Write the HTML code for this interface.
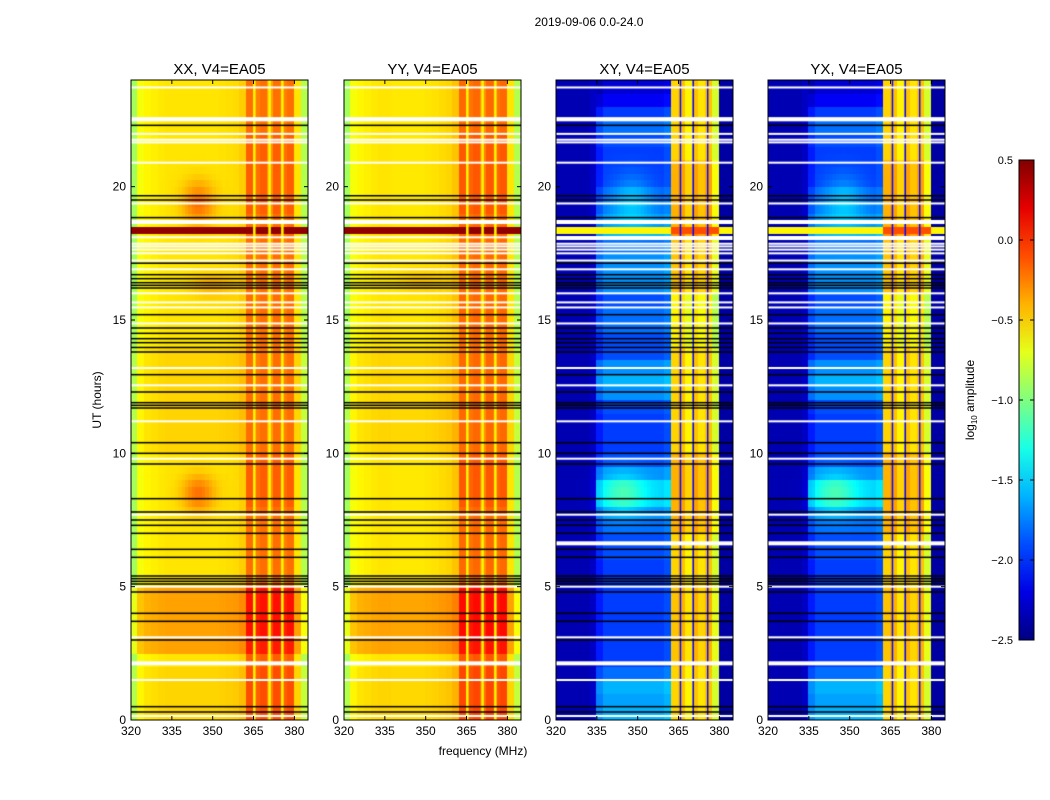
<!DOCTYPE html>
<html><head><meta charset="utf-8">
<style>
body{margin:0;background:#fff;}
#wrap{position:relative;width:1050px;height:800px;font-family:"Liberation Sans",sans-serif;}
canvas,svg{position:absolute;left:0;top:0;}
</style></head>
<body>
<div id="wrap">
<canvas id="cv" width="1050" height="800"></canvas>
<svg id="sv" width="1050" height="800"></svg>
</div>
<script>
// ---- data ----
const freqBins = [320,322.5,325,327.5,330,332.5,335,337.5,340,342.5,345,347.5,350,352.5,355,357.5,360,362.5,365,367.5,370,372.5,375,377.5,380,382.5];
const xxColBase = [-0.9,-0.65,-0.6,-0.58,-0.56,-0.55,-0.55,-0.55,-0.55,-0.55,-0.55,-0.55,-0.55,-0.54,-0.53,-0.52,-0.48,-0.2,-0.25,-0.2,-0.35,-0.2,-0.25,-0.2,-0.55,-0.85];
const yyColBase = [-0.9,-0.65,-0.6,-0.58,-0.56,-0.55,-0.55,-0.56,-0.56,-0.56,-0.56,-0.56,-0.55,-0.54,-0.52,-0.5,-0.45,-0.18,-0.22,-0.18,-0.3,-0.18,-0.22,-0.18,-0.55,-0.85];
const xyColBase = [-2.35,-2.35,-2.35,-2.35,-2.35,-2.3,-2.05,-1.95,-1.95,-1.95,-1.95,-1.95,-1.95,-1.95,-1.95,-1.95,-1.9,-0.5,-0.45,-0.6,-0.45,-0.55,-0.45,-0.75,-2.4,-2.4];
const yxColBase = [-2.35,-2.35,-2.35,-2.35,-2.35,-2.3,-2.05,-1.95,-1.95,-1.95,-1.95,-1.95,-1.95,-1.95,-1.95,-1.95,-1.9,-0.5,-0.45,-0.6,-0.45,-0.55,-0.45,-0.75,-2.4,-2.4];
const xxRowAll = [0.05,0.05,0.05,0.05,0,0.2,0.2,0.2,0.2,0.2,0,0,0,0,0,0,0,0,0,0,0.05,0.05,0.05,0.05,0.05,0.05,0.05,0.05,0,0,0,0,0,0,0,0,0,0,0,0,0,0,0,0,0,0,0,0];
const xxRowRight = [0.05,0.05,0.05,0.05,0.05,0.05,0.08,0.08,0.08,0.08,0,0,0,0,0,0,0.05,0.05,0.05,0.05,-0.05,-0.05,-0.05,-0.05,-0.05,-0.05,-0.05,-0.05,0,0,0,0,0,0,0,0,0,0,0.05,0.05,0.05,0.05,0.05,0.05,0,0,0,0];
const xyRowMid = [0.35,0.3,0.35,0.15,0,0,0,0,0,0,0,0,0.05,0.05,0.15,0.25,0.45,0.45,0.25,0.05,0,0,0,0.05,0.25,0.35,0.25,0.05,0.05,0.15,0.15,0.05,0.25,0.25,0.25,0.15,0.35,0.25,0.15,0.1,0,0,0,0.05,0.15,0,-0.2,-0.3];
const xyRowRight = [0,0,0,0,0.05,0.05,0.05,0.05,0.05,0.05,0,0,0,0,0.1,0.1,0.1,0.1,0.1,0.1,0,0,0,0,0,0,0,0,-0.1,-0.1,-0.1,-0.1,0.05,0.05,0.05,0.05,0.2,0.1,0.1,0.1,0.1,0.1,0,0,0,0,0,0];
// blobs: [freq, hour, amplitude, freqWidth, hourWidth]
const xxBlobs = [[345,19.4,0.35,6,0.8],[345,8.5,0.35,6,0.7],[350,16.3,0.15,8,0.5]];
const yyBlobs = [[348,16.5,0.1,8,0.5]];
const xyBlobs = [[345,8.5,0.35,8,0.8],[348,19.5,0.3,8,1.0]];
const yxBlobs = [[345,8.5,0.35,8,0.8],[348,19.5,0.3,8,1.0]];
// bands: [hourStart, hourEnd, value]
const xxBands = [[18.2,18.55,0.45]];
const xyBands = [[18.2,18.55,-0.6]];
const xxStripes = [365.2,370.8,375.5];
const xyStripes = [365.8,370.5,375.8];
const whiteLines = [23.72,22.56,21.98,21.76,21.66,20.9,19.37,18.1,17.86,17.76,17.64,17.5,17.23,16.9,16.0,15.66,15.47,14.87,13.2,12.55,11.2,9.8,7.7,5.0,3.1,1.5,0.15];
const blackLines = [22.3,19.66,19.5,18.84,17.13,16.7,16.55,16.4,16.3,16.2,15.2,14.7,14.5,14.3,14.15,13.97,13.8,12.95,12.3,11.9,11.8,11.7,10.4,10.0,9.6,8.3,7.8,7.5,7.3,7.0,6.4,6.1,5.4,5.3,5.2,5.1,4.8,4.0,3.7,3.0,0.5,0.3];
const whiteBands = [[22.45,22.6],[18.6,18.75],[2.05,2.2]];
const xyWhiteBands = [[18.0,18.15],[6.55,6.7]];
const xTicks = [320,335,350,365,380];
const yTicks = [0,5,10,15,20];
const cbTicks = [0.5,0.0,-0.5,-1.0,-1.5,-2.0,-2.5];

// ---- layout ----
const panels = [
 {left:131,title:"XX, V4=EA05",col:xxColBase,all:xxRowAll,mid:null,right:xxRowRight,blobs:xxBlobs,bands:xxBands,stripes:xxStripes,stripeVal:-0.6,cross:false},
 {left:344,title:"YY, V4=EA05",col:yyColBase,all:xxRowAll,mid:null,right:xxRowRight,blobs:yyBlobs,bands:xxBands,stripes:xxStripes,stripeVal:-0.6,cross:false},
 {left:556,title:"XY, V4=EA05",col:xyColBase,all:null,mid:xyRowMid,right:xyRowRight,blobs:xyBlobs,bands:xyBands,stripes:xyStripes,stripeVal:-2.1,cross:true},
 {left:768,title:"YX, V4=EA05",col:yxColBase,all:null,mid:xyRowMid,right:xyRowRight,blobs:yxBlobs,bands:xyBands,stripes:xyStripes,stripeVal:-2.1,cross:true}
];
const W=177,TOP=80,H=640,F0=320,F1=385,T0=0,T1=24;
function jet(v){let x=(v+2.5)/3;x=Math.max(0,Math.min(1,x));
 const c=t=>Math.round(255*Math.max(0,Math.min(1,1.5-Math.abs(t))));
 return `rgb(${c(4*x-3)},${c(4*x-2)},${c(4*x-1)})`;}
const ctx=document.getElementById('cv').getContext('2d');
const sv=document.getElementById('sv');
const NS="http://www.w3.org/2000/svg";
function mk(tag,attrs,name,parent){const e=document.createElementNS(NS,tag);for(const k in attrs)e.setAttribute(k,attrs[k]);
 
 
 (parent||sv).appendChild(e);return e;}
function txt(x,y,s,size,anchor,name,rot){const t=mk('text',{x:x,y:y,'font-size':size,'text-anchor':anchor||'middle','font-family':'Liberation Sans, sans-serif',fill:'#000'},name);
 if(rot)t.setAttribute('transform',`rotate(${rot} ${x} ${y})`);t.textContent=s;return t;}

panels.forEach((p,pi)=>{
 const xs=f=>p.left+(f-F0)/(F1-F0)*W;
 const ys=t=>TOP+H-(t-T0)/(T1-T0)*H;
 const df=1.25,dt=0.25;
 for(let f=F0;f<F1-1e-6;f+=df){
  const fc=f+df/2;const ci=Math.min(freqBins.length-1,Math.floor((fc-F0)/2.5));
  for(let t=T0;t<T1-1e-6;t+=dt){
   const tc=t+dt/2;const ri=Math.min(47,Math.floor(tc/0.5));
   let v=p.col[ci];
   if(p.all)v+=p.all[ri];
   if(p.mid&&ci>=6&&ci<=16)v+=p.mid[ri];
   if(ci>=17&&ci<=23)v+=p.right[ri];
   p.blobs.forEach(b=>{const a=(fc-b[0])/b[3],c=(tc-b[1])/b[4];v+=b[2]*Math.exp(-(a*a)-(c*c));});
   p.bands.forEach(b=>{if(tc>=b[0]&&tc<b[1]){v=(p.cross&&ci>=17&&ci<=23)?-0.1:b[2];}});
   ctx.fillStyle=jet(v);
   const x0=xs(f),x1=xs(f+df),y0=ys(t+dt),y1=ys(t);
   ctx.fillRect(Math.floor(x0),Math.floor(y0),Math.ceil(x1)-Math.floor(x0),Math.ceil(y1)-Math.floor(y0));
  }
 }
 p.stripes.forEach(s=>{ctx.fillStyle=jet(p.stripeVal);ctx.fillRect(xs(s)-1,TOP,p.cross?1.5:2.5,H);});
 ctx.fillStyle='#fff';
 whiteLines.forEach(t=>ctx.fillRect(p.left,ys(t)-1,W,2));
 whiteBands.forEach(b=>ctx.fillRect(p.left,ys(b[1]),W,ys(b[0])-ys(b[1])));
 if(p.cross)xyWhiteBands.forEach(b=>ctx.fillRect(p.left,ys(b[1]),W,ys(b[0])-ys(b[1])));
 ctx.fillStyle='#000';
 blackLines.forEach(t=>ctx.fillRect(p.left,ys(t)-0.75,W,1.5));
 mk('rect',{x:p.left,y:TOP,width:W,height:H,fill:'none',stroke:'#000','stroke-width':1},'panel-frame-'+pi);
 txt(p.left+W/2,74,p.title,15,'middle','panel-title-'+pi);
 xTicks.forEach(f=>{const x=xs(f);
  mk('line',{x1:x,x2:x,y1:TOP+H,y2:TOP+H-4,stroke:'#000'},'x-tick');
  mk('line',{x1:x,x2:x,y1:TOP,y2:TOP+4,stroke:'#000'},'x-tick-top');
  txt(x,735,String(f),12,'middle','x-tick-label');});
 yTicks.forEach(t=>{const y=ys(t);
  mk('line',{x1:p.left,x2:p.left+4,y1:y,y2:y,stroke:'#000'},'y-tick');
  mk('line',{x1:p.left+W,x2:p.left+W-4,y1:y,y2:y,stroke:'#000'},'y-tick-right');
  txt(p.left-5,y+4,String(t),12,'end','y-tick-label');});
});
txt(589,26,"2019-09-06 0.0-24.0",12,'middle','figure-title');
txt(483,755,"frequency (MHz)",12,'middle','x-axis-title');
txt(101,400,"UT (hours)",12,'middle','y-axis-title',-90);
const defs=mk('defs',{},'defs');
const g=mk('linearGradient',{id:'jetg',x1:0,y1:1,x2:0,y2:0},'colorbar-gradient',defs);
for(let i=0;i<=10;i++){mk('stop',{offset:i/10,'stop-color':jet(-2.5+3*i/10)},'gradient-stop',g);}
mk('rect',{x:1019,y:160,width:15,height:480,fill:'url(#jetg)',stroke:'#000'},'colorbar');
cbTicks.forEach(v=>{const y=160+(0.5-v)/3*480;
 mk('line',{x1:1019,x2:1023,y1:y,y2:y,stroke:'#000'},'colorbar-tick');
 mk('line',{x1:1034,x2:1030,y1:y,y2:y,stroke:'#000'},'colorbar-tick-right');
 txt(1013,y+4,(v<0?'\u2212':'')+Math.abs(v).toFixed(1),11,'end','colorbar-tick-label');});
const cl=txt(974,400,"",12,'middle','colorbar-title',-90);
cl.innerHTML='log<tspan font-size="8" dy="3">10</tspan><tspan dy="-3"> amplitude</tspan>';
</script>
</body></html>
